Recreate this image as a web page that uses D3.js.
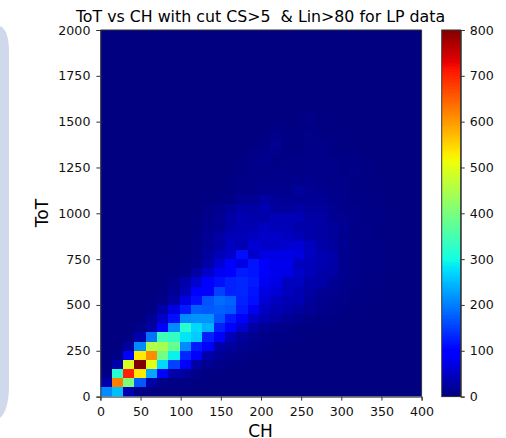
<!DOCTYPE html>
<html lang="en">
<head>
    <meta charset="UTF-8">
    <script src="https://d3js.org/d3.v7.min.js"></script>
    <title>ToT vs CH</title>
    <style>
        html, body { margin: 0; padding: 0; background: white; overflow: hidden; }
        text { font-family: "DejaVu Sans", sans-serif; fill: black; }
        .tick line, .domain { stroke: #333; stroke-width: 1px; }
        .tick text { font-size: 12.6px; font-family: "DejaVu Sans", sans-serif; fill: #111; }
    </style>
</head>
<body>
    <div id="chart"></div>
    <script>
        // histogram counts, row 0 is the lowest ToT bin, 29 CH bins per row
        const counts = [
            [210,250,35,5,2,1,1,1,0,0,0,0,0,0,0,0,0,0,0,0,0,0,0,0,0,0,0,0,0],
            [30,620,400,170,30,8,5,3,2,1,1,0,0,0,0,0,0,0,0,0,0,0,0,0,0,0,0,0,0],
            [5,320,700,530,230,90,30,20,8,4,2,1,1,0,0,0,0,0,0,0,0,0,0,0,0,0,0,0,0],
            [1,30,490,800,500,270,150,100,25,12,8,4,2,1,1,0,0,0,0,0,0,0,0,0,0,0,0,0,0],
            [0,5,100,530,610,390,290,130,95,30,15,10,8,4,2,1,1,0,0,0,0,0,0,0,0,0,0,0,0],
            [0,1,20,210,450,440,380,210,120,95,30,20,12,8,5,3,2,1,1,0,0,0,0,0,0,0,0,0,0],
            [0,0,4,30,190,340,330,280,260,125,95,40,20,12,8,5,4,3,2,1,1,0,0,0,0,0,0,0,0],
            [0,0,1,8,25,100,210,320,270,240,125,100,55,25,15,10,7,4,3,2,1,1,0,0,0,0,0,0,0],
            [0,0,0,2,15,50,110,210,215,215,165,120,90,50,35,25,15,10,6,4,3,2,1,0,0,0,0,0,0],
            [0,0,0,1,4,30,70,120,175,170,175,170,120,80,45,35,30,20,15,10,6,3,2,1,0,0,0,0,0],
            [0,0,0,0,2,8,25,70,110,165,185,175,125,110,60,45,35,35,20,10,8,6,4,2,1,0,0,0,0],
            [0,0,0,0,1,4,15,40,100,100,150,125,130,115,70,60,45,35,25,15,12,8,5,3,2,1,0,0,0],
            [0,0,0,0,0,2,10,30,55,100,110,125,130,120,80,70,45,45,30,30,15,10,6,4,2,1,0,0,0],
            [0,0,0,0,0,1,3,5,25,50,80,100,120,115,85,75,70,50,40,30,25,10,7,4,3,1,0,0,0],
            [0,0,0,0,0,0,2,3,8,30,60,95,70,115,85,75,75,45,40,35,28,10,8,5,3,2,1,0,0],
            [0,0,0,0,0,0,1,2,6,20,40,50,110,50,70,70,70,65,45,35,30,10,7,5,3,2,1,0,0],
            [0,0,0,0,0,0,0,1,6,15,25,45,35,60,50,50,55,60,45,30,20,15,8,5,4,2,1,0,0],
            [0,0,0,0,0,0,0,1,5,14,25,40,40,45,50,50,45,40,30,25,20,10,8,6,4,2,1,0,0],
            [0,0,0,0,0,0,0,0,3,10,15,30,35,35,45,40,40,30,30,25,20,15,8,6,4,2,1,0,0],
            [0,0,0,0,0,0,0,0,2,8,15,25,35,30,30,40,40,40,25,25,15,12,8,5,3,2,1,0,0],
            [0,0,0,0,0,0,0,0,1,6,10,18,25,25,35,20,20,25,20,20,12,8,6,4,3,2,1,0,0],
            [0,0,0,0,0,0,0,0,0,2,4,5,14,14,25,18,14,14,16,14,10,8,5,4,3,1,0,0,0],
            [0,0,0,0,0,0,0,0,0,1,2,4,8,8,10,10,10,18,14,10,8,6,4,3,2,1,0,0,0],
            [0,0,0,0,0,0,0,0,0,0,1,3,6,8,8,8,8,10,10,8,6,8,4,3,2,1,0,0,0],
            [0,0,0,0,0,0,0,0,0,0,1,2,5,7,8,7,6,8,8,8,8,5,6,3,1,1,0,0,0],
            [0,0,0,0,0,0,0,0,0,0,0,1,3,8,10,5,6,6,8,8,6,4,5,2,1,0,0,0,0],
            [0,0,0,0,0,0,0,0,0,0,0,1,2,6,10,6,5,5,7,7,5,3,4,1,1,0,0,0,0],
            [0,0,0,0,0,0,0,0,0,0,0,0,1,2,5,12,4,4,6,6,4,2,1,1,0,0,0,0,0],
            [0,0,0,0,0,0,0,0,0,0,0,0,0,1,2,8,3,3,6,4,3,1,1,0,0,0,0,0,0],
            [0,0,0,0,0,0,0,0,0,0,0,0,0,0,1,3,1,3,5,3,1,1,0,0,0,0,0,0,0],
            [0,0,0,0,0,0,0,0,0,0,0,0,0,0,0,1,1,2,6,1,1,0,0,0,0,0,0,0,0]
        ];

        const chTicks = [0, 50, 100, 150, 200, 250, 300, 350, 400];
        const totTicks = [0, 250, 500, 750, 1000, 1250, 1500, 1750, 2000];
        const cbarTicks = [0, 100, 200, 300, 400, 500, 600, 700, 800];
        const chBinCount = 29;
        const totBinCount = 40;
        const chStep = 14.1;
        const totStep = 50;
        const chMax = 400;
        const totMax = 2000;
        const countMax = 800;

        const svg = d3.select("#chart").append("svg")
            .attr("width", 506)
            .attr("height", 438);

        // bit of the neighbouring slide panel on the left edge
        svg.append("path")
            .attr("d", "M0,26 Q9,30 9,52 V385 Q9,410 0,418 Z")
            .attr("fill", "#d0d8ec");

        const plot = { left: 100.4, right: 421.6, top: 30, bottom: 396.6 };

        const x = d3.scaleLinear().domain([0, chMax]).range([plot.left, plot.right]);
        const y = d3.scaleLinear().domain([0, totMax]).range([plot.bottom, plot.top]);

        // matplotlib jet, one piecewise scale per channel
        const jetR = d3.scaleLinear().domain([0, 0.35, 0.66, 0.89, 1]).range([0, 0, 1, 1, 0.5]);
        const jetG = d3.scaleLinear().domain([0, 0.125, 0.375, 0.64, 0.91, 1]).range([0, 0, 1, 1, 0, 0]);
        const jetB = d3.scaleLinear().domain([0, 0.11, 0.34, 0.65, 1]).range([0.5, 1, 1, 0, 0]);
        const norm = d3.scaleLinear().domain([0, countMax]).range([0, 1]).clamp(true);
        const jet = (v) => {
            const t = norm(v);
            return d3.rgb(jetR(t) * 255, jetG(t) * 255, jetB(t) * 255).formatRgb();
        };

        const cells = [];
        d3.range(totBinCount).forEach((r) => {
            d3.range(chBinCount).forEach((c) => {
                const row = counts[r] || [];
                cells.push({ r: r, c: c, v: row[c] || 0 });
            });
        });

        // last CH bin runs past 400, so clip to the axes
        svg.append("clipPath")
            .attr("id", "plot-clip")
            .append("rect")
            .attr("x", plot.left)
            .attr("y", plot.top)
            .attr("width", plot.right - plot.left)
            .attr("height", plot.bottom - plot.top);

        svg.append("g")
            .attr("clip-path", "url(#plot-clip)")
            .attr("shape-rendering", "crispEdges")
            .selectAll("rect")
            .data(cells)
            .enter()
            .append("rect")
            .attr("x", (d) => x(d.c * chStep))
            .attr("y", (d) => y((d.r + 1) * totStep))
            .attr("width", x(chStep) - x(0))
            .attr("height", y(0) - y(totStep))
            .attr("fill", (d) => jet(d.v));

        svg.append("g")
            .attr("transform", `translate(0,${plot.bottom})`)
            .call(d3.axisBottom(x).tickValues(chTicks).tickSize(4).tickPadding(6).tickFormat(d3.format("d")));

        svg.append("g")
            .attr("transform", `translate(${plot.left},0)`)
            .call(d3.axisLeft(y).tickValues(totTicks).tickSize(4).tickPadding(6).tickFormat(d3.format("d")));

        // top and right spines
        svg.append("path")
            .attr("d", `M${plot.left},${plot.top}H${plot.right}V${plot.bottom}`)
            .attr("fill", "none")
            .attr("stroke", "#333")
            .attr("stroke-width", 1);

        svg.append("text")
            .attr("x", 260.5)
            .attr("y", 22)
            .attr("text-anchor", "middle")
            .style("font-size", "15.8px")
            .style("white-space", "pre")
            .text("ToT vs CH with cut CS>5  & Lin>80 for LP data");

        svg.append("text")
            .attr("x", 260.5)
            .attr("y", 437)
            .attr("text-anchor", "middle")
            .style("font-size", "17px")
            .text("CH");

        svg.append("text")
            .attr("transform", "translate(48,213) rotate(-90)")
            .attr("text-anchor", "middle")
            .style("font-size", "17px")
            .text("ToT");

        // colour bar
        const cbar = { left: 441.7, right: 460.7 };
        const cy = d3.scaleLinear().domain([0, countMax]).range([plot.bottom, plot.top]);
        const cbarSteps = d3.range(0, countMax, countMax / 256);

        svg.append("g")
            .attr("shape-rendering", "crispEdges")
            .selectAll("rect")
            .data(cbarSteps)
            .enter()
            .append("rect")
            .attr("x", cbar.left)
            .attr("width", cbar.right - cbar.left)
            .attr("y", (d) => cy(d + countMax / 256))
            .attr("height", cy(0) - cy(countMax / 256))
            .attr("fill", (d) => jet(d));

        svg.append("g")
            .attr("transform", `translate(${cbar.right},0)`)
            .call(d3.axisRight(cy).tickValues(cbarTicks).tickSize(4).tickPadding(5).tickFormat(d3.format("d")));

        svg.append("rect")
            .attr("x", cbar.left)
            .attr("y", plot.top)
            .attr("width", cbar.right - cbar.left)
            .attr("height", plot.bottom - plot.top)
            .attr("fill", "none")
            .attr("stroke", "#333")
            .attr("stroke-width", 1);
    </script>
</body>
</html>
